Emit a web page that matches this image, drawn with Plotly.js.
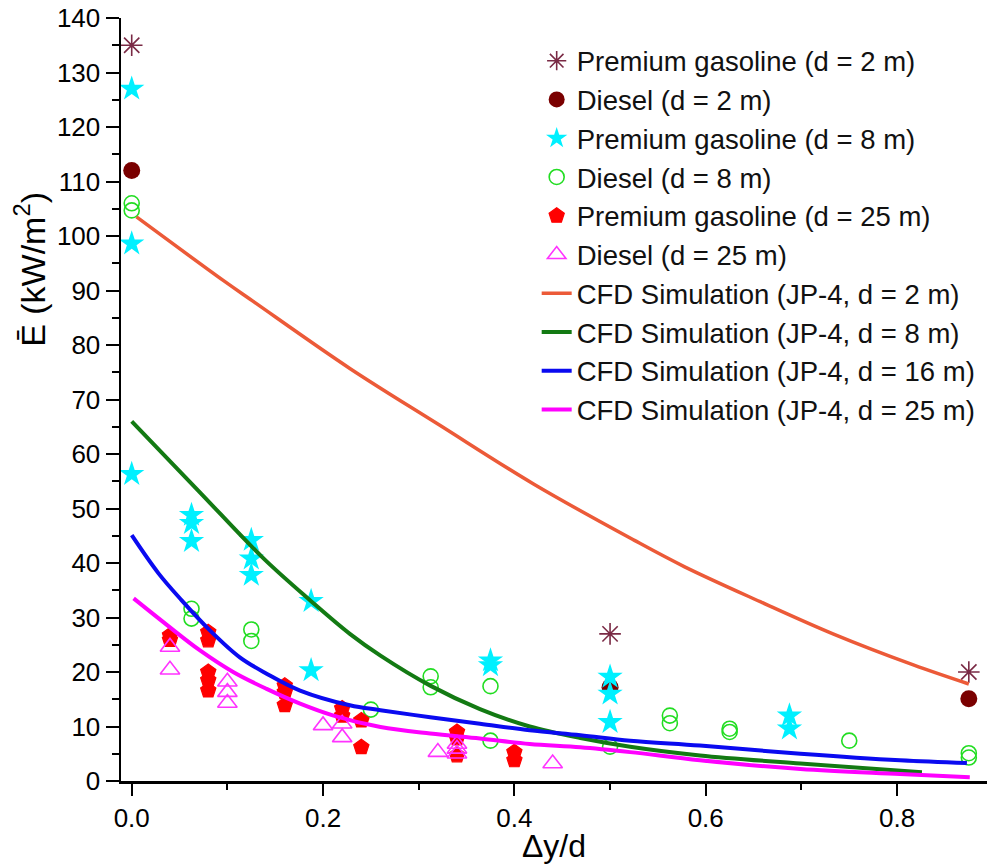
<!DOCTYPE html>
<html>
<head>
<meta charset="utf-8">
<script src="https://cdn.plot.ly/plotly-3.0.1.min.js"></script>
<style>html,body{margin:0;padding:0;background:#fff;}#chart{width:988px;height:864px;}</style>
</head>
<body>
<div id="chart"></div>
<script>
// Experimental data
const pg2_x = [0, 0.5, 0.875];
const pg2_y = [135, 27, 20];
const d2_x = [0, 0.5, 0.875];
const d2_y = [112, 17.2, 15.1];
const pg8_x = [0, 0, 0, 0.0625, 0.0625, 0.0625, 0.125, 0.125, 0.125, 0.1875, 0.1875, 0.375, 0.375, 0.5, 0.5, 0.5, 0.6875, 0.6875];
const pg8_y = [127, 98.6, 56.3, 48.8, 47.3, 44.0, 44.2, 40.8, 37.8, 33.0, 20.3, 22.1, 21.2, 19.1, 16.0, 10.8, 12.0, 9.6];
const d8_x = [0, 0, 0.0625, 0.0625, 0.125, 0.125, 0.25, 0.3125, 0.3125, 0.375, 0.375, 0.5, 0.5625, 0.5625, 0.625, 0.625, 0.75, 0.875, 0.875];
const d8_y = [106, 104.7, 31.6, 29.8, 27.8, 25.7, 13.1, 19.2, 17.2, 17.4, 7.4, 6.3, 12.0, 10.6, 9.6, 9.0, 7.4, 5.1, 4.3];
const pg25_x = [0.04, 0.04, 0.08, 0.08, 0.08, 0.08, 0.08, 0.16, 0.16, 0.16, 0.22, 0.22, 0.24, 0.24, 0.34, 0.34, 0.34, 0.40, 0.40];
const pg25_y = [26.7, 25.9, 27.3, 25.8, 20.0, 18.5, 16.6, 17.5, 16.3, 13.9, 13.3, 12.0, 11.1, 6.2, 9.0, 7.8, 4.7, 5.3, 3.8];
const d25_x = [0.04, 0.04, 0.10, 0.10, 0.10, 0.20, 0.22, 0.22, 0.32, 0.34, 0.34, 0.34, 0.44];
const d25_y = [24.6, 20.4, 18.2, 16.3, 14.3, 10.2, 10.5, 8.0, 5.3, 6.8, 5.9, 5.0, 3.2];

// CFD simulation curves (JP-4)
const cfd2_x = [0.005, 0.096, 0.127, 0.228, 0.32, 0.42, 0.525, 0.578, 0.657, 0.733, 0.817, 0.875];
const cfd2_y = [103.5, 91.8, 88.0, 75.7, 65.5, 54.5, 44.2, 39.3, 32.9, 27.0, 21.3, 17.8];
const cfd8_x = [0.0, 0.07, 0.138, 0.1875, 0.228, 0.26, 0.312, 0.364, 0.416, 0.469, 0.521, 0.594, 0.699, 0.826];
const cfd8_y = [66.0, 53.2, 40.8, 33.0, 27.0, 23.0, 17.5, 13.2, 10.0, 7.9, 6.3, 4.7, 3.2, 1.6];
const cfd16_x = [0.0, 0.028, 0.052, 0.082, 0.113, 0.141, 0.176, 0.228, 0.26, 0.312, 0.364, 0.416, 0.469, 0.521, 0.594, 0.699, 0.803, 0.873];
const cfd16_y = [45.1, 38.1, 33.2, 27.6, 22.7, 19.7, 16.6, 13.9, 13.0, 11.7, 10.5, 9.3, 8.4, 7.4, 6.5, 5.0, 3.8, 3.3];
const cfd25_x = [0.002, 0.037, 0.071, 0.106, 0.141, 0.176, 0.211, 0.26, 0.312, 0.364, 0.416, 0.469, 0.521, 0.594, 0.699, 0.803, 0.876];
const cfd25_y = [33.5, 28.6, 24.0, 20.0, 16.9, 14.2, 12.0, 9.9, 8.7, 7.8, 6.8, 6.2, 5.3, 3.8, 2.2, 1.3, 0.7];

const names = [
  'Premium gasoline (d = 2 m)', 'Diesel (d = 2 m)',
  'Premium gasoline (d = 8 m)', 'Diesel (d = 8 m)',
  'Premium gasoline (d = 25 m)', 'Diesel (d = 25 m)',
  'CFD Simulation (JP-4, d = 2 m)', 'CFD Simulation (JP-4, d = 8 m)',
  'CFD Simulation (JP-4, d = 16 m)', 'CFD Simulation (JP-4, d = 25 m)'
];

const traces = [
  {x: pg2_x, y: pg2_y, name: names[0], mode: 'markers', type: 'scatter',
   marker: {symbol: 'asterisk-open', size: 18, color: '#7a2a45', line: {color: '#7a2a45', width: 1.6}}},
  {x: d2_x, y: d2_y, name: names[1], mode: 'markers', type: 'scatter',
   marker: {symbol: 'circle', size: 17, color: '#7a0000'}},
  {x: pg8_x, y: pg8_y, name: names[2], mode: 'markers', type: 'scatter',
   marker: {symbol: 'star', size: 19, color: '#00f0ff', line: {width: 0}}},
  {x: d8_x, y: d8_y, name: names[3], mode: 'markers', type: 'scatter',
   marker: {symbol: 'circle-open', size: 15, color: '#22dd22', line: {width: 1.6}}},
  {x: pg25_x, y: pg25_y, name: names[4], mode: 'markers', type: 'scatter',
   marker: {symbol: 'pentagon', size: 16, color: '#ff0000', line: {color: '#ff0000', width: 1.2}}},
  {x: d25_x, y: d25_y, name: names[5], mode: 'markers', type: 'scatter',
   marker: {symbol: 'triangle-up-open', size: 17, color: '#ff33ff', line: {width: 1.6}}},
  {x: cfd2_x, y: cfd2_y, name: names[6], mode: 'lines', type: 'scatter',
   line: {color: '#ec5a38', width: 3.5, shape: 'spline', smoothing: 1}},
  {x: cfd8_x, y: cfd8_y, name: names[7], mode: 'lines', type: 'scatter',
   line: {color: '#137a13', width: 4, shape: 'spline', smoothing: 1}},
  {x: cfd16_x, y: cfd16_y, name: names[8], mode: 'lines', type: 'scatter',
   line: {color: '#0a0af0', width: 4, shape: 'spline', smoothing: 1}},
  {x: cfd25_x, y: cfd25_y, name: names[9], mode: 'lines', type: 'scatter',
   line: {color: '#ff00ff', width: 4, shape: 'spline', smoothing: 1}}
];

const fontFam = 'Arial, "Liberation Sans", Helvetica, sans-serif';

const layout = {
  width: 988, height: 864,
  margin: {l: 121, r: 1, t: 18, b: 83},
  paper_bgcolor: '#ffffff', plot_bgcolor: '#ffffff',
  font: {family: fontFam, color: '#000000'},
  showlegend: true,
  legend: {
    x: 0.48, y: 0.976, xanchor: 'left', yanchor: 'top',
    bgcolor: 'rgba(255,255,255,0)', borderwidth: 0,
    font: {family: fontFam, size: 27.5, color: '#111111'},
    tracegroupgap: 0
  },
  xaxis: {
    range: [-0.0112, 0.894],
    tick0: 0, dtick: 0.2, tickformat: '.1f',
    ticks: 'outside', ticklen: 12, tickwidth: 2, tickcolor: '#000',
    minor: {dtick: 0.1, tick0: 0, ticks: 'outside', ticklen: 6, tickwidth: 2, tickcolor: '#000', showgrid: false},
    showline: true, linecolor: '#000', linewidth: 2.5,
    showgrid: false, zeroline: false,
    tickfont: {family: fontFam, size: 26, color: '#000'},
    title: {text: 'Δy/d', font: {family: fontFam, size: 32, color: '#000'}, standoff: 4}
  },
  yaxis: {
    range: [0, 140],
    tick0: 0, dtick: 10,
    ticks: 'outside', ticklen: 13, tickwidth: 2, tickcolor: '#000',
    minor: {dtick: 5, tick0: 0, ticks: 'outside', ticklen: 7, tickwidth: 2, tickcolor: '#000', showgrid: false},
    showline: true, linecolor: '#000', linewidth: 2.5,
    showgrid: false, zeroline: false,
    tickfont: {family: fontFam, size: 26, color: '#000'}
  },
  annotations: [{
    xref: 'paper', yref: 'paper',
    x: -0.105, y: 0.67, xanchor: 'center', yanchor: 'middle',
    text: 'Ē (kW/m<sup>2</sup>)', textangle: -90, showarrow: false,
    font: {family: fontFam, size: 34, color: '#000'}
  }]
};

Plotly.newPlot('chart', traces, layout, {displayModeBar: false, staticPlot: true});
</script>
</body>
</html>
